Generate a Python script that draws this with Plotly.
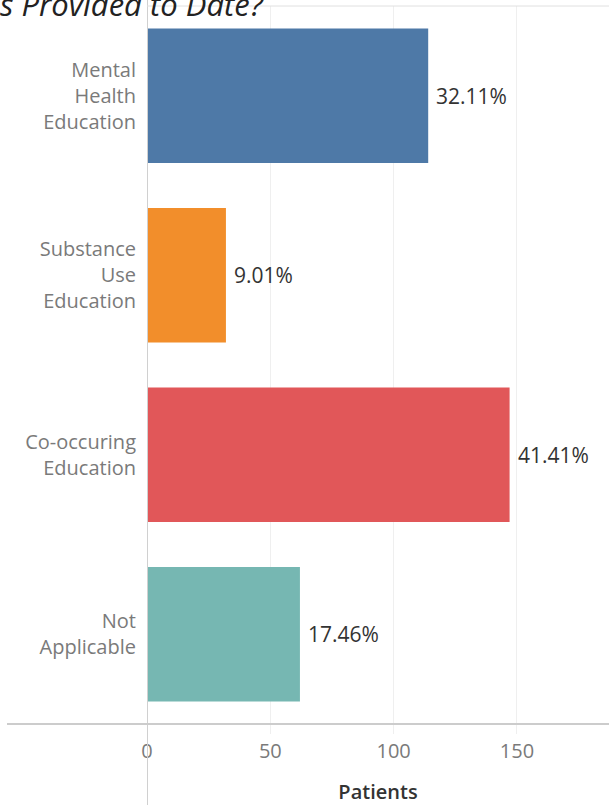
import plotly.graph_objects as go

categories = ["Mental<br>Health<br>Education", "Substance<br>Use<br>Education",
              "Co-occuring<br>Education", "Not<br>Applicable"]
patients = [114, 32, 147, 62]
pct_labels = ["32.11%", "9.01%", "41.41%", "17.46%"]
colors = ["#4e79a7", "#f28e2b", "#e15759", "#76b7b2"]
x_ticks = [0, 50, 100, 150]

FONT = "Open Sans"

fig = go.Figure(go.Bar(
    x=patients, y=categories, orientation="h",
    marker=dict(color=colors, line=dict(width=0)),
    width=0.75,
    hoverinfo="skip",
))

L, T, B = 147, 6, 81
W, H = 609, 805
ph = H - T - B

annotations = [
    dict(text=lab, x=v, y=c, xref="x", yref="y", xanchor="left", yanchor="middle",
         xshift=6, showarrow=False,
         font=dict(family=FONT, size=21, color="#333333"))
    for v, c, lab in zip(patients, categories, pct_labels)
]
annotations.append(
    dict(text="<i>s Provided to Date?</i>", xref="paper", yref="paper",
         x=(266 - L) / (W - L), y=1 + (T - 4) / ph, xanchor="right", yanchor="middle",
         showarrow=False, font=dict(family=FONT, size=31, color="#222222"))
)

fig.update_layout(
    width=W, height=H,
    margin=dict(l=L, r=0, t=T, b=B, pad=0),
    plot_bgcolor="white", paper_bgcolor="white",
    showlegend=False,
    font=dict(family=FONT),
    xaxis=dict(range=[0, 187.3], tickvals=x_ticks, showgrid=True,
               gridcolor="#efefef", gridwidth=1, zeroline=False,
               showline=False, ticks="outside", ticklen=9, tickcolor="#efefef",
               tickfont=dict(family=FONT, size=20, color="#7a7a7a"),
               title=dict(text="Patients", standoff=22,
                          font=dict(family=FONT, size=20, color="#333333", weight=600)),
               fixedrange=True),
    yaxis=dict(categoryorder="array", categoryarray=categories,
               autorange="reversed", showgrid=False, zeroline=False,
               showline=False, ticks="", ticklabelstandoff=10,
               tickfont=dict(family=FONT, size=20, color="#7a7a7a")),
    shapes=[
        dict(type="line", xref="x", yref="paper", x0=0, x1=0,
             y0=-(B) / ph, y1=1 + T / ph, line=dict(color="#d0d0d0", width=2)),
        dict(type="line", xref="paper", yref="paper", x0=(7 - L) / (W - L), x1=1,
             y0=0, y1=0, line=dict(color="#cccccc", width=2)),
        dict(type="line", xref="paper", yref="paper", x0=0, x1=1,
             y0=1, y1=1, line=dict(color="#e0e0e0", width=1)),
    ],
    annotations=annotations,
)

fig.write_html("out.html", config={"displayModeBar": False},
               post_script="document.body.style.margin='0';document.body.style.overflow='hidden';")
